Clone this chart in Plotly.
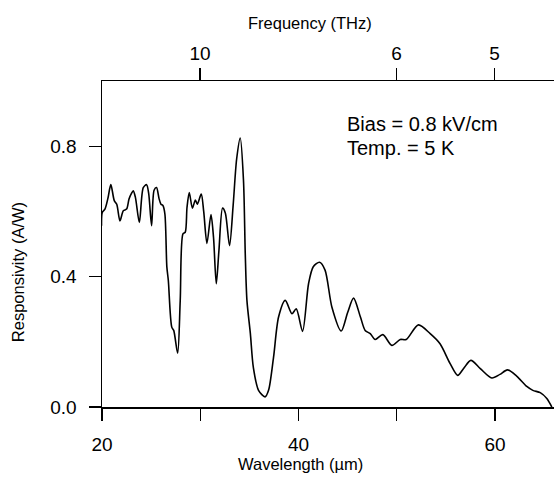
import plotly.graph_objects as go

# Wavelength (um) and responsivity (A/W)
wavelength = [19.95, 20.03, 20.3, 20.6, 20.9, 21.25, 21.5, 21.83, 22.17, 22.5, 22.75, 23.0, 23.18, 23.4, 23.8,
              24.2, 24.54, 24.75, 25.05, 25.3, 25.55, 25.8, 26.0, 26.2, 26.4, 26.6, 26.75, 27.1, 27.3, 27.7,
              27.96, 28.24, 28.47, 28.65, 28.88, 29.2, 29.5, 29.7, 30.1, 30.35, 30.68, 31.09, 31.35, 31.63,
              31.9, 32.27, 32.55, 32.98, 33.35, 33.7, 34.07, 34.4, 34.58, 34.75, 35.1, 35.4, 35.93, 36.6,
              36.95, 37.46, 37.97, 38.65, 39.33, 39.77, 40.41, 41.02, 41.5, 42.14, 42.7, 43.4, 44.34, 45.0,
              45.6, 46.3, 46.78, 47.3, 47.8, 48.58, 49.5, 50.35, 50.96, 52.2, 53.4, 54.4, 55.43, 56.2,
              56.8, 57.54, 58.5, 59.67, 60.5, 61.26, 62.2, 63.23, 63.85, 64.6, 65.27, 65.78]
responsivity = [0.556, 0.597, 0.607, 0.64, 0.682, 0.633, 0.622, 0.571, 0.602, 0.607, 0.638, 0.655, 0.663, 0.643, 0.566,
                0.673, 0.682, 0.655, 0.556, 0.665, 0.673, 0.64, 0.622, 0.618, 0.592, 0.43, 0.388, 0.245, 0.235, 0.165,
                0.326, 0.531, 0.536, 0.612, 0.658, 0.61, 0.635, 0.622, 0.653, 0.6, 0.502, 0.59, 0.52, 0.378,
                0.48, 0.61, 0.595, 0.495, 0.62, 0.76, 0.825, 0.694, 0.47, 0.327, 0.225, 0.122, 0.051, 0.031,
                0.051, 0.153, 0.276, 0.327, 0.286, 0.301, 0.232, 0.378, 0.43, 0.444, 0.42, 0.306, 0.233, 0.29,
                0.334, 0.276, 0.235, 0.225, 0.207, 0.222, 0.189, 0.207, 0.207, 0.252, 0.225, 0.194, 0.133, 0.097,
                0.118, 0.143, 0.118, 0.089, 0.1, 0.114, 0.095, 0.063, 0.051, 0.044, 0.026, 0.0]

freq_ticks = [10, 6, 5]
freq_tick_labels = ["10", "6", "5"]
wl_tickvals = [20, 30, 40, 50, 60]
wl_ticktext = ["20", "", "40", "", "60"]
resp_tickvals = [0.0, 0.4, 0.8]

C = 299.79
freq_pos = [C / f for f in freq_ticks]

FONT = "Liberation Sans, Arial, Helvetica, sans-serif"
TICK_FONT = dict(size=19, color="black", family=FONT)

fig = go.Figure()
fig.add_trace(go.Scatter(x=wavelength, y=responsivity, mode="lines",
                         line=dict(color="black", width=1.6, shape="spline", smoothing=0.8),
                         showlegend=False, hoverinfo="skip"))
fig.add_trace(go.Scatter(x=wavelength, y=responsivity, mode="lines", xaxis="x2",
                         line=dict(color="rgba(0,0,0,0)", width=0), showlegend=False, hoverinfo="skip"))

axis_common = dict(showline=True, linecolor="black", linewidth=1.5, ticks="outside",
                   ticklen=12, tickwidth=1.3, tickcolor="black", showgrid=False, zeroline=False,
                   tickfont=TICK_FONT)

fig.update_layout(
    width=554, height=479,
    margin=dict(l=102, r=0, t=81, b=72),
    paper_bgcolor="white", plot_bgcolor="white",
    font=dict(family=FONT, size=17, color="black"),
    xaxis=dict(range=[20, 66], tickvals=wl_tickvals, ticktext=wl_ticktext,
               ticklabelstandoff=8, **axis_common),
    xaxis2=dict(range=[20, 66], overlaying="x", side="top", anchor="y",
                tickvals=freq_pos, ticktext=freq_tick_labels, **axis_common),
    yaxis=dict(range=[0, 1.0], tickvals=resp_tickvals, tickformat=".1f",
               ticklabelstandoff=8, **axis_common),
    annotations=[
        dict(text="Wavelength (\u00b5m)", x=0.439, y=-0.176, xref="paper", yref="paper",
             showarrow=False, xanchor="center", yanchor="middle", font=dict(size=16.5)),
        dict(text="Frequency (THz)", x=0.461, y=1.177, xref="paper", yref="paper",
             showarrow=False, xanchor="center", yanchor="middle", font=dict(size=16.5)),
        dict(text="Responsivity (A/W)", x=-0.184, y=0.413, xref="paper", yref="paper",
             showarrow=False, textangle=-90, xanchor="center", yanchor="middle", font=dict(size=16.5)),
        dict(text="Bias = 0.8 kV/cm", x=0.538, y=0.867, xref="paper", yref="paper",
             showarrow=False, xanchor="left", yanchor="middle", font=dict(size=20)),
        dict(text="Temp. = 5 K", x=0.538, y=0.794, xref="paper", yref="paper",
             showarrow=False, xanchor="left", yanchor="middle", font=dict(size=20)),
    ],
)

fig.write_html("out.html",
               config={"displayModeBar": False, "staticPlot": True},
               post_script="document.body.style.margin='0';document.body.style.padding='0';"
                           "document.body.style.overflow='hidden';")
